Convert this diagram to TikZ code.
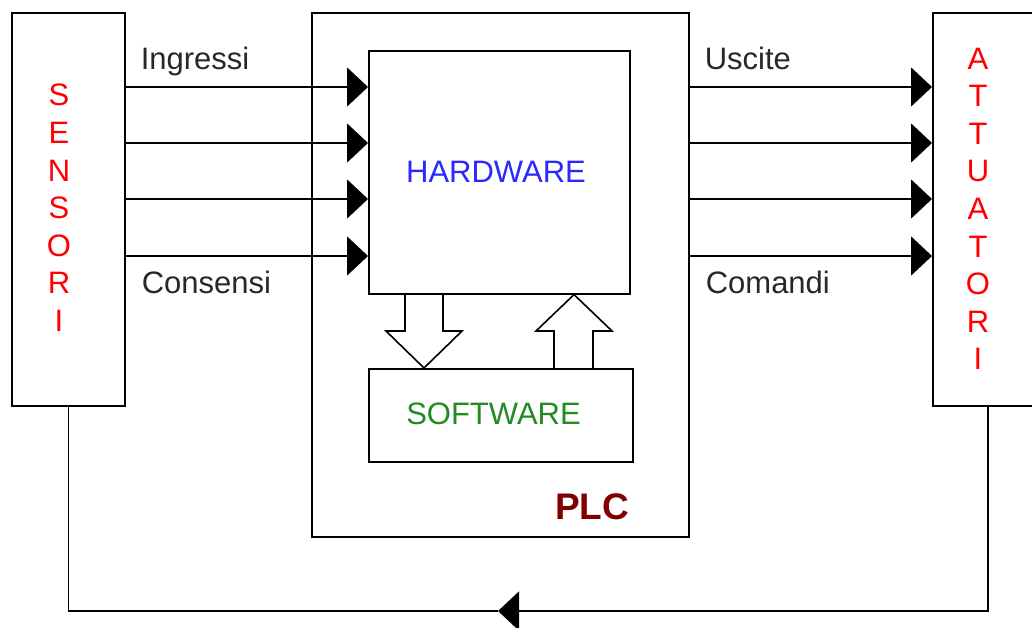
\documentclass[tikz,border=0pt]{standalone}
\usepackage{fontspec}
\setmainfont{Liberation Sans}
\usetikzlibrary{arrows.meta}
\definecolor{hwblue}{RGB}{40,40,255}
\definecolor{swgreen}{RGB}{34,139,34}
\definecolor{plcred}{RGB}{128,0,0}
\definecolor{lblgray}{RGB}{40,40,40}
\begin{document}
\begin{tikzpicture}[x=1pt,y=-1pt,line width=1.6pt,
  box/.style={draw=black,line width=1.6pt,inner sep=0pt,anchor=north west,fill=white},
  lbl/.style={inner sep=0pt,anchor=base west,text=lblgray,font=\fontsize{31}{37}\selectfont},
  vert/.style={inner sep=0pt,anchor=north,align=center,text=red,font=\fontsize{31}{37.6}\selectfont},
  sig/.style={-{Triangle[length=21pt,width=39pt]}},
  hollow/.style={draw=black,line width=1.6pt,line join=miter}]
\useasboundingbox (0,0) rectangle (1032,627);
\clip (0,0) rectangle (1032,627);
% boxes
\node[box,minimum width=113pt,minimum height=393pt] (sens) at (11,12) {};
\node[box,minimum width=377pt,minimum height=524pt] (plc) at (311,12) {};
\node[box,minimum width=261pt,minimum height=243pt] (hw) at (368,50) {};
\node[box,minimum width=264pt,minimum height=93pt] (sw) at (368,368) {};
\node[box,minimum width=110pt,minimum height=393pt] (att) at (932,12) {};
% texts
\node[vert] (senst) at (59,83.5) {S\\E\\N\\S\\O\\R\\I};
\node[vert] (attt) at (978,47) {A\\T\\T\\U\\A\\T\\O\\R\\I};
\node[inner sep=0pt,anchor=base,text=hwblue,font=\fontsize{31}{37}\selectfont] (hwt) at (496,182) {HARDWARE};
\node[inner sep=0pt,anchor=base,text=swgreen,font=\fontsize{31}{37}\selectfont] (swt) at (493.5,424) {SOFTWARE};
\node[inner sep=0pt,anchor=base,text=plcred,font=\fontsize{37}{44}\bfseries] (plct) at (592,519) {PLC};
\node[lbl] (ingr) at (140,69) {Ingressi};
\node[lbl] (cons) at (141,293) {Consensi};
\node[lbl] (usc) at (704,69) {Uscite};
\node[lbl] (com) at (705,293) {Comandi};
% input and output signals
\foreach \yy in {87,143,199,256}{
  \draw[sig] (sens.east |- 0,\yy) -- (hw.west |- 0,\yy);
  \draw[sig] (plc.east |- 0,\yy) -- (att.west |- 0,\yy);
}
% hollow arrows between hardware and software
\draw[hollow] (hw.south -| 405,0) -- (405,331) -- (386,331) -- (sw.north -| 424,0) -- (462,331) -- (443,331) -- (hw.south -| 443,0);
\draw[hollow] (sw.north -| 554,0) -- (554,331) -- (536,331) -- (hw.south -| 574,0) -- (612,331) -- (593,331) -- (sw.north -| 593,0);
% feedback
\coordinate (fb) at (498,611);
\draw[sig] (att.south) |- (fb);
\draw (fb) -| (sens.south);
\end{tikzpicture}
\end{document}
